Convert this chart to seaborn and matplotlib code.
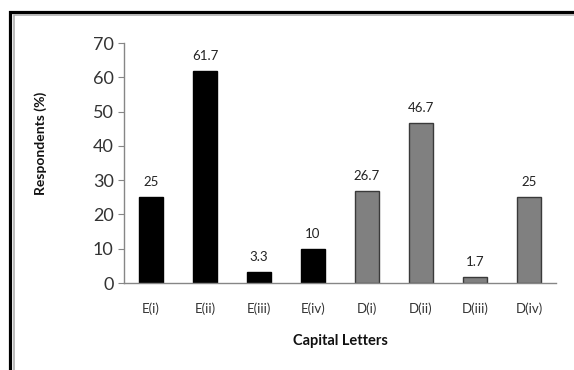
import matplotlib
matplotlib.use("Agg")
import matplotlib.pyplot as plt
from matplotlib.patches import Rectangle
import seaborn as sns
import pandas as pd

# Survey results: share of respondents per capital-letter item
categories = ["E(i)", "E(ii)", "E(iii)", "E(iv)", "D(i)", "D(ii)", "D(iii)", "D(iv)"]
values = [25, 61.7, 3.3, 10, 26.7, 46.7, 1.7, 25]
groups = ["E", "E", "E", "E", "D", "D", "D", "D"]
value_labels = ["25", "61.7", "3.3", "10", "26.7", "46.7", "1.7", "25"]
y_ticks = [0, 10, 20, 30, 40, 50, 60, 70]

sns.set_theme(style="white")
plt.rcParams["font.family"] = ["Lato", "DejaVu Sans"]

df = pd.DataFrame({"category": categories, "value": values, "group": groups})

W, H = 574, 370
fig = plt.figure(figsize=(W / 100, H / 100), dpi=100)
ax = fig.add_axes([124 / W, 1 - 283 / H, 432 / W, 240 / H])

palette = {"E": "#000000", "D": "#808080"}
sns.barplot(data=df, x="category", y="value", hue="group", palette=palette,
            dodge=False, width=0.45, legend=False, ax=ax, saturation=1,
            order=categories)

for patch, g in zip(ax.patches, groups):
    patch.set_edgecolor("#000000" if g == "E" else "#3a3a3a")
    patch.set_linewidth(1.0)

for i, (v, lab) in enumerate(zip(values, value_labels)):
    ax.annotate(lab, (i, v), xytext=(0, 6.5), textcoords="offset points",
                ha="center", va="bottom", fontsize=9.5, color="#222222")

ax.set_ylim(0, 70)
ax.set_xlim(-0.5, 7.5)
ax.set_yticks(y_ticks)
ax.set_yticklabels([str(t) for t in y_ticks], fontsize=13, color="#333333")
ax.tick_params(axis="y", direction="out", length=4.5, width=0.8, color="#868686",
               pad=3, left=True)
ax.tick_params(axis="x", length=0, pad=14, labelsize=9.5, labelcolor="#333333")

for side in ["top", "right"]:
    ax.spines[side].set_visible(False)
for side in ["left", "bottom"]:
    ax.spines[side].set_color("#868686")
    ax.spines[side].set_linewidth(1.0)

ax.set_xlabel("Capital Letters", fontsize=10.5, fontweight="bold", color="#111111",
              labelpad=14)
ax.set_ylabel("Respondents (%)", fontsize=10, fontweight="bold", color="#111111")
ax.yaxis.set_label_coords(-77 / 432, 0.58)

# Double frame around the chart area (open on the right and bottom edges)
fig.patches.append(Rectangle((9.5 / W, -0.1), 1.2, 1 - 11.5 / H + 0.1,
                             transform=fig.transFigure, fill=False,
                             edgecolor="#000000", linewidth=2.3, zorder=0))
fig.patches.append(Rectangle((13.5 / W, -0.1), 1.2, 1 - 14.5 / H + 0.1,
                             transform=fig.transFigure, fill=False,
                             edgecolor="#a8a8a8", linewidth=1.1, zorder=0))

fig.savefig("out.png", dpi=100)
